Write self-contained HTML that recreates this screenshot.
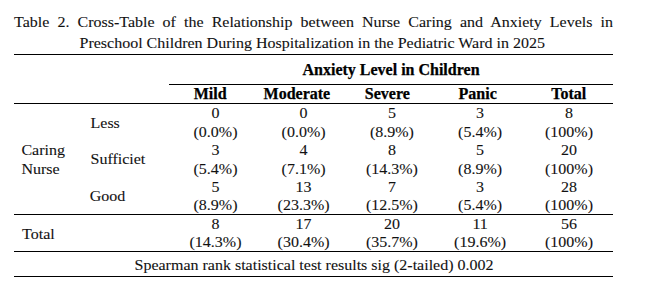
<!DOCTYPE html>
<html><head><meta charset="utf-8"><style>
html,body{margin:0;padding:0;background:#fff;}
body{width:645px;height:288px;position:relative;overflow:hidden;}
.t{position:absolute;font-family:"Liberation Serif",serif;font-size:16px;line-height:20px;white-space:nowrap;color:#111;-webkit-text-stroke:0.1px #111;}
.b{font-weight:bold;color:#000;-webkit-text-stroke:0.25px #000;}
body{--sy:0.95;}
.t{transform-origin:0 15px;}
.ln{position:absolute;height:1px;background:#000;}
</style></head><body>
<div class="t" style="top:12px;left:14px;width:599px;text-align:justify;text-align-last:justify;white-space:normal;transform:scaleY(var(--sy))">Table 2. Cross-Table of the Relationship between Nurse Caring and Anxiety Levels in</div>
<div class="t" style="top:33px;left:79.5px;transform:scaleY(var(--sy));">Preschool Children During Hospitalization in the Pediatric Ward in 2025</div>
<div class="t b" style="top:60px;left:391px;transform:translateX(-50%);">Anxiety Level in Children</div>
<div class="t b" style="top:84px;left:210.2px;transform:translateX(-50%);">Mild</div>
<div class="t b" style="top:84px;left:296.9px;transform:translateX(-50%);">Moderate</div>
<div class="t b" style="top:84px;left:387.3px;transform:translateX(-50%);">Severe</div>
<div class="t b" style="top:84px;left:477.7px;transform:translateX(-50%);">Panic</div>
<div class="t b" style="top:84px;left:568.7px;transform:translateX(-50%);">Total</div>
<div class="t" style="top:103px;left:215.5px;transform:translateX(-50%) scaleY(var(--sy));">0</div>
<div class="t" style="top:122px;left:215.5px;transform:translateX(-50%) scaleY(var(--sy));">(0.0%)</div>
<div class="t" style="top:103px;left:303.6px;transform:translateX(-50%) scaleY(var(--sy));">0</div>
<div class="t" style="top:122px;left:303.6px;transform:translateX(-50%) scaleY(var(--sy));">(0.0%)</div>
<div class="t" style="top:103px;left:391.9px;transform:translateX(-50%) scaleY(var(--sy));">5</div>
<div class="t" style="top:122px;left:391.9px;transform:translateX(-50%) scaleY(var(--sy));">(8.9%)</div>
<div class="t" style="top:103px;left:480.1px;transform:translateX(-50%) scaleY(var(--sy));">3</div>
<div class="t" style="top:122px;left:480.1px;transform:translateX(-50%) scaleY(var(--sy));">(5.4%)</div>
<div class="t" style="top:103px;left:569px;transform:translateX(-50%) scaleY(var(--sy));">8</div>
<div class="t" style="top:122px;left:569px;transform:translateX(-50%) scaleY(var(--sy));">(100%)</div>
<div class="t" style="top:140px;left:215.5px;transform:translateX(-50%) scaleY(var(--sy));">3</div>
<div class="t" style="top:159px;left:215.5px;transform:translateX(-50%) scaleY(var(--sy));">(5.4%)</div>
<div class="t" style="top:140px;left:303.6px;transform:translateX(-50%) scaleY(var(--sy));">4</div>
<div class="t" style="top:159px;left:303.6px;transform:translateX(-50%) scaleY(var(--sy));">(7.1%)</div>
<div class="t" style="top:140px;left:391.9px;transform:translateX(-50%) scaleY(var(--sy));">8</div>
<div class="t" style="top:159px;left:391.9px;transform:translateX(-50%) scaleY(var(--sy));">(14.3%)</div>
<div class="t" style="top:140px;left:480.1px;transform:translateX(-50%) scaleY(var(--sy));">5</div>
<div class="t" style="top:159px;left:480.1px;transform:translateX(-50%) scaleY(var(--sy));">(8.9%)</div>
<div class="t" style="top:140px;left:569px;transform:translateX(-50%) scaleY(var(--sy));">20</div>
<div class="t" style="top:159px;left:569px;transform:translateX(-50%) scaleY(var(--sy));">(100%)</div>
<div class="t" style="top:177px;left:215.5px;transform:translateX(-50%) scaleY(var(--sy));">5</div>
<div class="t" style="top:195px;left:215.5px;transform:translateX(-50%) scaleY(var(--sy));">(8.9%)</div>
<div class="t" style="top:177px;left:303.6px;transform:translateX(-50%) scaleY(var(--sy));">13</div>
<div class="t" style="top:195px;left:303.6px;transform:translateX(-50%) scaleY(var(--sy));">(23.3%)</div>
<div class="t" style="top:177px;left:391.9px;transform:translateX(-50%) scaleY(var(--sy));">7</div>
<div class="t" style="top:195px;left:391.9px;transform:translateX(-50%) scaleY(var(--sy));">(12.5%)</div>
<div class="t" style="top:177px;left:480.1px;transform:translateX(-50%) scaleY(var(--sy));">3</div>
<div class="t" style="top:195px;left:480.1px;transform:translateX(-50%) scaleY(var(--sy));">(5.4%)</div>
<div class="t" style="top:177px;left:569px;transform:translateX(-50%) scaleY(var(--sy));">28</div>
<div class="t" style="top:195px;left:569px;transform:translateX(-50%) scaleY(var(--sy));">(100%)</div>
<div class="t" style="top:214px;left:215.5px;transform:translateX(-50%) scaleY(var(--sy));">8</div>
<div class="t" style="top:232px;left:215.5px;transform:translateX(-50%) scaleY(var(--sy));">(14.3%)</div>
<div class="t" style="top:214px;left:303.6px;transform:translateX(-50%) scaleY(var(--sy));">17</div>
<div class="t" style="top:232px;left:303.6px;transform:translateX(-50%) scaleY(var(--sy));">(30.4%)</div>
<div class="t" style="top:214px;left:391.9px;transform:translateX(-50%) scaleY(var(--sy));">20</div>
<div class="t" style="top:232px;left:391.9px;transform:translateX(-50%) scaleY(var(--sy));">(35.7%)</div>
<div class="t" style="top:214px;left:480.1px;transform:translateX(-50%) scaleY(var(--sy));">11</div>
<div class="t" style="top:232px;left:480.1px;transform:translateX(-50%) scaleY(var(--sy));">(19.6%)</div>
<div class="t" style="top:214px;left:569px;transform:translateX(-50%) scaleY(var(--sy));">56</div>
<div class="t" style="top:232px;left:569px;transform:translateX(-50%) scaleY(var(--sy));">(100%)</div>
<div class="t" style="top:113px;left:90.5px;transform:scaleY(var(--sy));">Less</div>
<div class="t" style="top:140px;left:21.4px;transform:scaleY(var(--sy));">Caring</div>
<div class="t" style="top:159px;left:21.4px;transform:scaleY(var(--sy));">Nurse</div>
<div class="t" style="top:149px;left:90.5px;transform:scaleY(var(--sy));">Sufficiet</div>
<div class="t" style="top:186px;left:89.8px;transform:scaleY(var(--sy));">Good</div>
<div class="t" style="top:224px;left:22.1px;transform:scaleY(var(--sy));">Total</div>
<div class="t" style="top:255px;left:134.5px;transform:scaleY(var(--sy));">Spearman rank statistical test results sig (2-tailed) 0.002</div>
<div class="ln" style="top:54px;left:14px;width:599px"></div>
<div class="ln" style="top:84px;left:169px;width:444px"></div>
<div class="ln" style="top:103px;left:14px;width:599px"></div>
<div class="ln" style="top:214px;left:14px;width:599px"></div>
<div class="ln" style="top:251px;left:14px;width:599px"></div>
<div class="ln" style="top:276px;left:14px;width:599px"></div>
</body></html>
